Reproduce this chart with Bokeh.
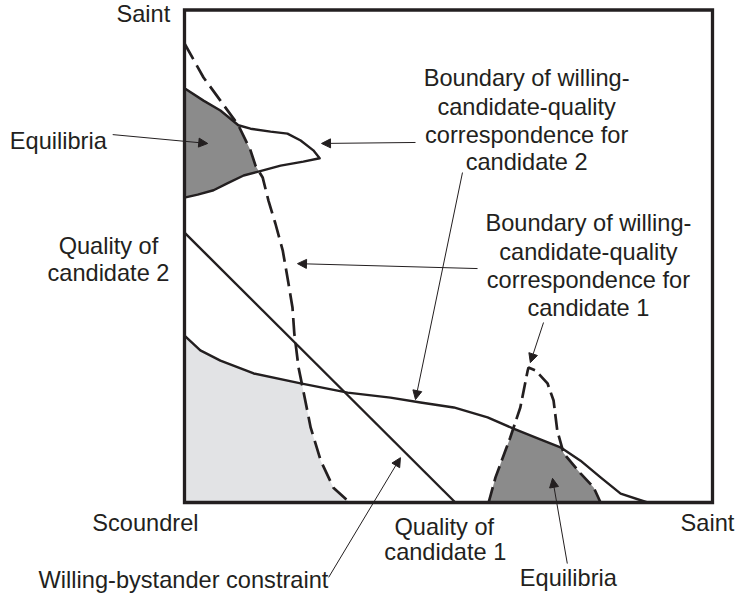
from bokeh.plotting import figure
from bokeh.models import Range1d, Arrow, NormalHead, ColumnDataSource
from bokeh.core.properties import value
from bokeh.embed import file_html
from bokeh.resources import INLINE

# ---- data (quality units, 0 = scoundrel, 100 = saint) ----
# candidate 2 boundary, upper-left loop (upper edge -> tip -> lower edge)
c2_loop_x = [0, 3.6, 6.8, 10.2, 12.5, 16.3, 19.5, 22.0, 24.4, 25.6, 22.5, 18.2, 14.0, 11.2, 8.1, 5.5, 2.5, 0]
c2_loop_y = [84.1, 81.6, 79.6, 76.6, 75.9, 75.3, 74.9, 73.5, 71.5, 69.9, 69.2, 68.4, 67.2, 66.4, 64.8, 63.4, 62.5, 61.9]
# candidate 2 boundary, long lower curve
c2_low_x = [0, 3.0, 6.8, 13.1, 22.0, 30.9, 39.0, 44.7, 51.0, 57.4, 62.3, 66.9, 71.2, 75.0, 78.8, 82.6, 87.7]
c2_low_y = [33.9, 30.9, 28.8, 26.2, 24.2, 22.3, 21.3, 20.3, 19.3, 17.3, 15.0, 13.0, 11.2, 8.5, 5.1, 1.8, 0]
# candidate 1 boundary, long dashed curve
c1_main_x = [0, 3.6, 6.8, 10.2, 12.5, 13.45, 14.8, 15.9, 17.2, 18.6, 19.5, 20.45, 20.8, 21.6, 22.5, 23.9, 25.8, 28.2, 30.9]
c1_main_y = [93.2, 86.3, 81.6, 76.6, 71.5, 68.4, 66.0, 61.3, 56.7, 51.2, 45.7, 39.6, 34.3, 27.4, 22.7, 15.2, 8.5, 3.0, 0.4]
# candidate 1 boundary, dashed peak on the right
c1_peak_x = [57.6, 58.9, 61.7, 63.6, 65.0, 65.15, 66.5, 68.75, 69.9, 70.6, 71.8, 75.0, 77.5, 78.8]
c1_peak_y = [0, 5.1, 13.2, 19.3, 26.8, 27.4, 26.8, 24.2, 20.7, 14.6, 10.0, 5.9, 3.05, 0]
# willing-bystander constraint
wb_x = [0, 51.3]
wb_y = [54.8, 0]

# labels
label_text = ["Saint", "Equilibria", "Quality of", "candidate 2",
              "Boundary of willing-", "candidate-quality", "correspondence for", "candidate 2",
              "Boundary of willing-", "candidate-quality", "correspondence for", "candidate 1",
              "Scoundrel", "Quality of", "candidate 1", "Saint",
              "Willing-bystander constraint", "Equilibria"]
label_x = [-7.8, -23.9, -14.4, -14.4,
           64.8, 64.8, 64.8, 64.8,
           76.5, 76.5, 76.5, 76.5,
           -7.4, 49.2, 49.4, 99.05,
           -0.2, 72.7]
label_y = [99.1, 73.5, 52.1, 46.5,
           86.1, 80.4, 74.7, 69.2,
           56.65, 50.95, 45.1, 39.4,
           -4.1, -4.9, -10.15, -4.1,
           -15.8, -15.4]

# arrows (start x, start y, end x, end y)
arrow_x0 = [-13.6, 43.75, 52.65, 55.5, 68.0, 27.3, 72.5]
arrow_y0 = [74.7, 73.1, 67.0, 47.5, 36.55, -15.2, -12.4]
arrow_x1 = [4.4, 25.95, 43.75, 21.4, 65.5, 40.9, 69.7]
arrow_y1 = [72.9, 72.9, 20.9, 48.5, 28.4, 9.1, 4.9]

INK = "#231f20"
DARK = "#8b8b8b"
LIGHT = "#e2e3e5"


def intersections(ax, ay, bx, by):
    out = []
    for i in range(len(ax) - 1):
        for j in range(len(bx) - 1):
            x1, y1, x2, y2 = ax[i], ay[i], ax[i + 1], ay[i + 1]
            x3, y3, x4, y4 = bx[j], by[j], bx[j + 1], by[j + 1]
            d = (x2 - x1) * (y4 - y3) - (y2 - y1) * (x4 - x3)
            if abs(d) < 1e-12:
                continue
            t = ((x3 - x1) * (y4 - y3) - (y3 - y1) * (x4 - x3)) / d
            u = ((x3 - x1) * (y2 - y1) - (y3 - y1) * (x2 - x1)) / d
            if 0 <= t <= 1 and 0 <= u <= 1:
                out.append((i, j, x1 + t * (x2 - x1), y1 + t * (y2 - y1)))
    return out


# top-left equilibria region
ints = intersections(c2_loop_x, c2_loop_y, c1_main_x, c1_main_y)
ints.sort(key=lambda r: r[0])
(i1, j1, px1, py1), (i2, j2, px2, py2) = ints[0], ints[-1]
tl_x = c2_loop_x[:i1 + 1] + [px1] + c1_main_x[j1 + 1:j2 + 1] + [px2] + c2_loop_x[i2 + 1:]
tl_y = c2_loop_y[:i1 + 1] + [py1] + c1_main_y[j1 + 1:j2 + 1] + [py2] + c2_loop_y[i2 + 1:]

# bottom-left light region
(i, j, px, py) = intersections(c2_low_x, c2_low_y, c1_main_x, c1_main_y)[0]
bl_x = [0] + c2_low_x[:i + 1] + [px] + c1_main_x[j + 1:] + [c1_main_x[-1]]
bl_y = [0] + c2_low_y[:i + 1] + [py] + c1_main_y[j + 1:] + [0]

# bottom-right equilibria region
ints = intersections(c1_peak_x, c1_peak_y, c2_low_x, c2_low_y)
ints.sort(key=lambda r: r[0])
(i1, j1, px1, py1), (i2, j2, px2, py2) = ints[0], ints[-1]
br_x = c1_peak_x[:i1 + 1] + [px1] + c2_low_x[j1 + 1:j2 + 1] + [px2] + c1_peak_x[i2 + 1:]
br_y = c1_peak_y[:i1 + 1] + [py1] + c2_low_y[j1 + 1:j2 + 1] + [py2] + c1_peak_y[i2 + 1:]

W, H = 736, 605
SX, SY = 5.28, 4.925          # pixels per quality unit
X0, Y0 = 184, 502             # page position of the origin
p = figure(width=W, height=H, output_backend="svg", toolbar_location=None,
           x_range=Range1d(-X0 / SX, (W - X0) / SX), y_range=Range1d(-(H - Y0) / SY, Y0 / SY),
           x_axis_type=None, y_axis_type=None, min_border=0,
           min_border_left=0, min_border_right=0, min_border_top=0, min_border_bottom=0)
p.grid.visible = False
p.outline_line_color = None
p.background_fill_color = "white"
p.border_fill_color = "white"

p.patch(bl_x, bl_y, fill_color=LIGHT, line_color=None)
p.patch(tl_x, tl_y, fill_color=DARK, line_color=None)
p.patch(br_x, br_y, fill_color=DARK, line_color=None)

p.line(c2_loop_x, c2_loop_y, line_color=INK, line_width=2.4, line_join="round")
p.line(c2_low_x, c2_low_y, line_color=INK, line_width=2.4, line_join="round")
p.line(wb_x, wb_y, line_color=INK, line_width=2.4)
p.line(c1_main_x, c1_main_y, line_color=INK, line_width=2.7, line_dash="18 7")
p.line(c1_peak_x, c1_peak_y, line_color=INK, line_width=2.7, line_dash="16 6")

p.quad(left=[0], right=[100], bottom=[0], top=[100], fill_color=None,
       line_color=INK, line_width=3.3, line_join="miter")

for x0, y0, x1, y1 in zip(arrow_x0, arrow_y0, arrow_x1, arrow_y1):
    p.add_layout(Arrow(end=NormalHead(size=9, fill_color=INK, line_color=INK, line_width=1),
                       x_start=x0, y_start=y0, x_end=x1, y_end=y1,
                       line_color=INK, line_width=1))

src = ColumnDataSource(dict(x=label_x, y=label_y, t=label_text))
p.text(x="x", y="y", text="t", source=src, text_font=value("Liberation Sans"),
       text_font_size=value("23.6px"), text_align="center", text_baseline="middle",
       text_color=INK)

open("out.html", "w").write(file_html(p, INLINE))
